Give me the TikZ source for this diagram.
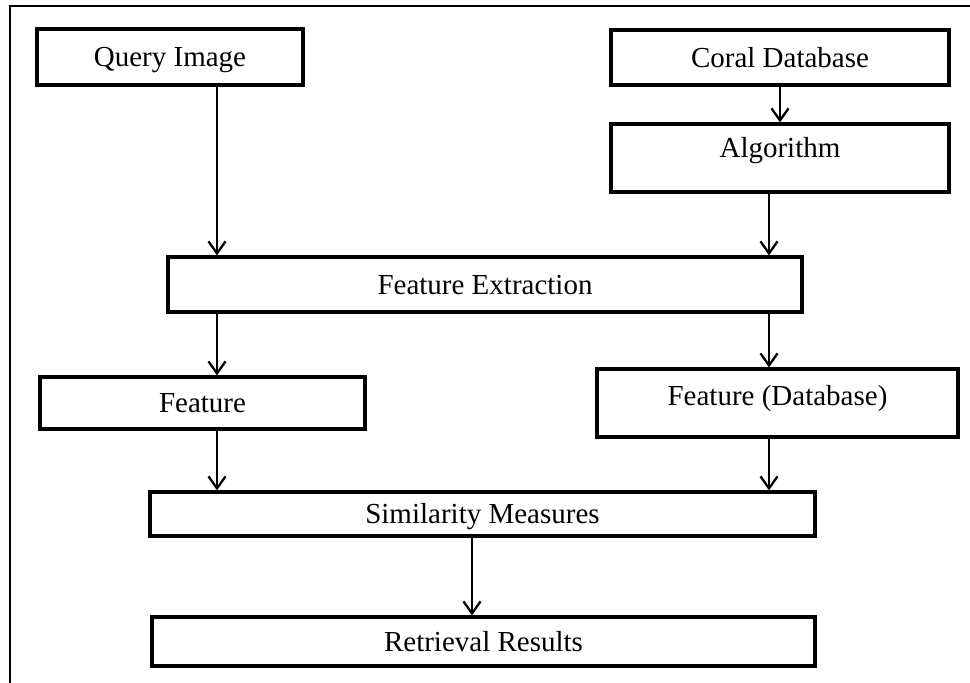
\documentclass[tikz,border=0pt]{standalone}
\usepackage{fontspec}
\setmainfont{Liberation Serif}
\usetikzlibrary{arrows.meta}

\begin{document}
\begin{tikzpicture}[x=1pt,y=-1pt,
    box/.style={draw,line width=3.2pt,inner sep=0pt,text height=19pt,text depth=0pt,font=\fontsize{29}{31}\selectfont},
    arr/.style={-{Straight Barb[length=12pt,width=17pt]},line width=2.3pt}]
      \useasboundingbox (0,0) rectangle (970,683);
      \draw[line width=1.5pt] (970,6) -- (10,6) -- (10,683);
      \coordinate (lcol) at (217,0);
      \coordinate (rcol) at (769,0);
      \coordinate (mcol) at (472,0);
      \draw
        (170,57) node[box,minimum width=266pt,minimum height=56pt] (query){Query Image}
        (780,57.5) node[box,minimum width=338pt,minimum height=55pt] (coral){Coral Database}
        (780,158) node[box,minimum width=338pt,minimum height=68pt,text height=33pt,text depth=35pt] (algo){Algorithm}
        (485,284.5) node[box,minimum width=634pt,minimum height=55pt] (fext){Feature Extraction}
        (202.5,403) node[box,minimum width=325pt,minimum height=52pt] (feat){Feature}
        (777.5,403) node[box,minimum width=361pt,minimum height=68pt,text height=36pt,text depth=32pt] (fdb){Feature (Database)}
        (482.5,514) node[box,minimum width=665pt,minimum height=44pt] (sim){Similarity Measures}
        (483.5,641.5) node[box,minimum width=663pt,minimum height=49pt] (ret){Retrieval Results};
      \begin{scope}[arr]
        \draw (query.south -| lcol) -- (fext.north -| lcol);
        \draw (coral) -- (algo);
        \draw (algo.south -| rcol) -- (fext.north -| rcol);
        \draw (fext.south -| lcol) -- (feat.north -| lcol);
        \draw (fext.south -| rcol) -- (fdb.north -| rcol);
        \draw (feat.south -| lcol) -- (sim.north -| lcol);
        \draw (fdb.south -| rcol) -- (sim.north -| rcol);
        \draw (sim.south -| mcol) -- (ret.north -| mcol);
      \end{scope}
\end{tikzpicture}
\end{document}
